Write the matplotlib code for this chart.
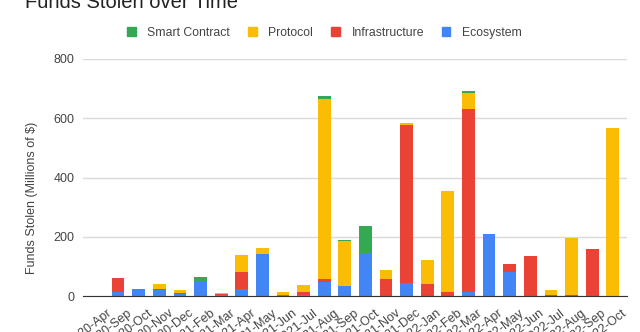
import numpy as np
import matplotlib.pyplot as plt
from matplotlib.patches import Patch
from matplotlib.transforms import ScaledTranslation

plt.rcParams['font.family'] = ['Liberation Sans', 'DejaVu Sans']

months = [
    "2020-Apr", "2020-Sep", "2020-Oct", "2020-Nov", "2020-Dec", "2021-Feb",
    "2021-Mar", "2021-Apr", "2021-May", "2021-Jun", "2021-Jul", "2021-Aug",
    "2021-Sep", "2021-Oct", "2021-Nov", "2021-Dec", "2022-Jan", "2022-Feb",
    "2022-Mar", "2022-Apr", "2022-May", "2022-Jun", "2022-Jul", "2022-Aug",
    "2022-Sep", "2022-Oct",
]

# millions of dollars, stacked bottom to top
ecosystem = [1, 15, 25, 20, 8, 52, 3, 22, 142, 2, 2, 46, 35, 144, 0, 43, 0, 0,
             13, 210, 82, 0, 0, 0, 0, 0]
infrastructure = [0, 45, 0, 2, 2, 0, 5, 58, 0, 3, 10, 10, 0, 0, 56, 534, 42, 12,
                  619, 0, 25, 135, 4, 3, 159, 0]
protocol = [0, 0, 0, 18, 10, 0, 3, 58, 20, 7, 24, 610, 149, 0, 32, 8, 80, 341,
            54, 0, 0, 0, 16, 194, 0, 568]
smart_contract = [0, 0, 0, 0, 0, 11, 0, 0, 0, 0, 0, 8, 5, 93, 0, 0, 0, 0,
                  5, 0, 0, 0, 0, 0, 0, 0]

series = [
    ("Ecosystem", ecosystem, "#4285F4"),
    ("Infrastructure", infrastructure, "#EA4335"),
    ("Protocol", protocol, "#FBBC04"),
    ("Smart Contract", smart_contract, "#34A853"),
]

fig = plt.figure(figsize=(6.4, 3.32), dpi=100)
ax = fig.add_axes([0.1297, 0.1084, 0.8503, 0.7139])

x = np.arange(len(months))
bottom = np.zeros(len(months))
for name, vals, color in series:
    vals = np.array(vals, dtype=float)
    ax.bar(x, vals, bottom=bottom, width=0.62, color=color, zorder=3)
    bottom += vals

ax.set_xlim(-0.7, len(months) - 0.3)
ax.set_ylim(0, 800)
ax.set_yticks([0, 200, 400, 600, 800])
ax.yaxis.grid(True, color="#d9d9d9", linewidth=1, zorder=0)
for side in ["top", "right", "left"]:
    ax.spines[side].set_visible(False)
ax.spines["bottom"].set_color("#333333")
ax.spines["bottom"].set_zorder(4)
ax.tick_params(axis="both", length=0, colors="#444444", labelsize=9)
ax.tick_params(axis="y", pad=6)
ax.set_xticks(x)
ax.set_xticklabels(months, rotation=38, ha="right", rotation_mode="anchor",
                   fontsize=9)
# push the slanted month labels a little right and down
shift = ScaledTranslation(9 / 100, -6 / 100, fig.dpi_scale_trans)
for lbl in ax.get_xticklabels():
    lbl.set_transform(lbl.get_transform() + shift)

fig.text(32 / 640, 1 - 198 / 332, "Funds Stolen (Millions of $)", fontsize=9,
         color="#444444", rotation=90, ha="center", va="center")

fig.text(0.039, 1 - 8 / 332, "Funds Stolen over Time", fontsize=14.5,
         color="#222222", va="baseline", ha="left")

handles = [Patch(color=c, label=n) for n, _, c in reversed(series)]
fig.legend(handles=handles, loc="center", bbox_to_anchor=(0.507, 1 - 33 / 332),
           ncol=4, frameon=False, fontsize=8.8, handlelength=0.72,
           handleheight=0.72, handletextpad=0.95, columnspacing=1.45,
           labelcolor="#444444")

fig.savefig("out.png", dpi=100)
